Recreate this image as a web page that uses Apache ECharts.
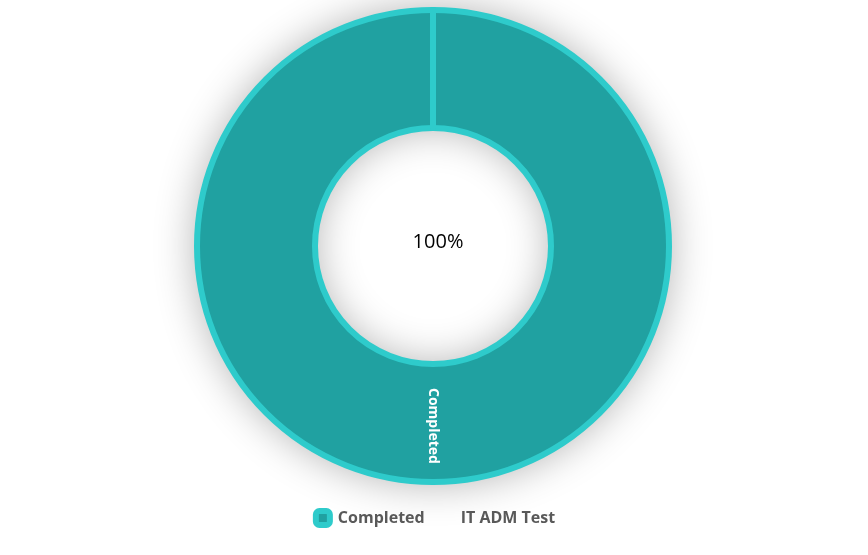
<!DOCTYPE html>
<html>
<head>
<meta charset="utf-8">
<script src="https://cdn.jsdelivr.net/npm/echarts@6/dist/echarts.min.js"></script>
<style>
html, body { margin: 0; padding: 0; background: #fff; }
#main { width: 868px; height: 555px; }
</style>
</head>
<body>
<div id="main"></div>
<script>
// 数据
var categories = ['Completed', ''];
var values = [100, 0];
var seriesName = 'IT ADM Test';
var centerText = '100%';

var fillColor = '#20a1a1';
var borderColor = '#2ecbcb';

var pieData = categories.map(function (name, i) {
    var item = { name: name, value: values[i] };
    if (!name) {
        item.label = { show: false };
        item.emphasis = { disabled: true };
    }
    return item;
});

var myChart = echarts.init(document.getElementById('main'));

var option = {
    backgroundColor: '#fff',
    title: {
        text: centerText,
        left: 433,
        top: 227,
        textAlign: 'center',
        textStyle: {
            fontFamily: 'Open Sans',
            fontSize: 20,
            fontWeight: 'normal',
            color: '#000'
        }
    },
    legend: {
        bottom: 22,
        left: 'center',
        itemWidth: 14,
        itemHeight: 14,
        itemGap: 14,
        icon: 'roundRect',
        itemStyle: {
            borderWidth: 6
        },
        data: [
            { name: 'Completed' },
            { name: seriesName, icon: 'none' }
        ],
        textStyle: {
            fontFamily: 'Open Sans',
            fontSize: 16,
            fontWeight: 'bold',
            color: '#595959',
            padding: [0, 0, 0, 3]
        }
    },
    series: [
        // 阴影层
        {
            name: 'shadow',
            type: 'pie',
            silent: true,
            center: [433, 246],
            radius: [118, 238],
            startAngle: 90,
            label: { show: false },
            labelLine: { show: false },
            itemStyle: {
                color: '#fff',
                borderWidth: 0,
                shadowBlur: 40,
                shadowColor: 'rgba(0,0,0,0.3)'
            },
            data: [{ name: 'shadow', value: 1 }]
        },
        {
            name: seriesName,
            type: 'pie',
            center: [433, 246],
            radius: [118, 236],
            startAngle: 90,
            avoidLabelOverlap: false,
            itemStyle: {
                color: fillColor,
                borderColor: borderColor,
                borderWidth: 6
            },
            label: {
                show: true,
                position: 'inside',
                rotate: -90,
                formatter: '{b}',
                fontFamily: 'Open Sans',
                fontSize: 14,
                fontWeight: 'bold',
                color: '#fff'
            },
            labelLine: { show: false },
            data: pieData
        }
    ]
};

// 为echarts对象加载数据
myChart.setOption(option);
</script>
</body>
</html>
